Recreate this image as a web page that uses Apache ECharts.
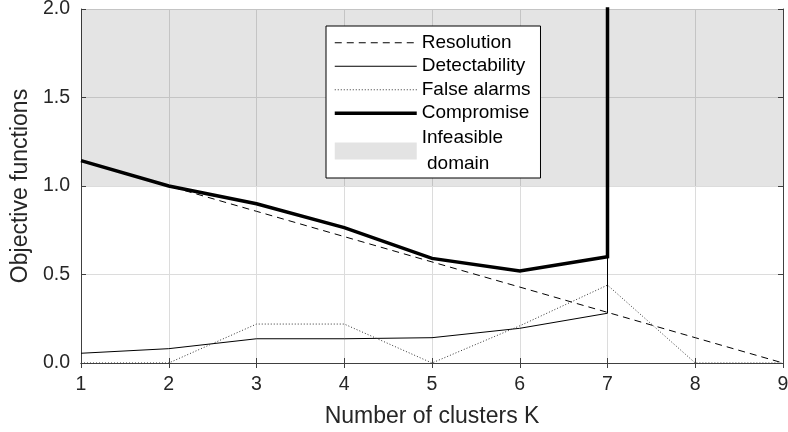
<!DOCTYPE html>
<html>
<head>
<meta charset="utf-8">
<script src="https://cdn.jsdelivr.net/npm/echarts@6/dist/echarts.min.js"></script>
<style>html,body{margin:0;padding:0;background:#fff}#chart{width:788px;height:432px}</style>
</head>
<body>
<div id="chart"></div>
<script>
const kValues = [1, 2, 3, 4, 5, 6, 7, 8, 9];
const resolution = [1.143, 1.0, 0.857, 0.714, 0.571, 0.429, 0.286, 0.143, 0.0];
const detectK = [1, 2, 3, 4, 5, 6, 7, 7];
const detectability = [0.055, 0.081, 0.137, 0.137, 0.143, 0.196, 0.281, 0.6];
const falseAlarms = [0, 0, 0.22, 0.22, 0, 0.21, 0.44, 0, 0];
const compromiseK = [1, 2, 3, 4, 5, 6, 7, 7];
const compromise = [1.143, 1.0, 0.9, 0.765, 0.591, 0.52, 0.6, 5.0];
const infeasibleRange = [1.0, 2.0];
const seriesNames = ['Resolution', 'Detectability', 'False alarms', 'Compromise', 'Infeasible\n domain'];

const pairs = (xs, ys) => xs.map((x, i) => [x, ys[i]]);
const FONT = 'Liberation Sans, Arial, sans-serif';
const AX = '#404040';
const rowText = {fontFamily: FONT, fontSize: 19, color: '#000', lineHeight: 23.5};
const twoLineText = {fontFamily: FONT, fontSize: 19, color: '#000', lineHeight: 26};

const chart = echarts.init(document.getElementById('chart'), null, {renderer: 'canvas'});
chart.setOption({
  animation: false,
  backgroundColor: '#fff',
  grid: {left: 81, right: 5, top: 9, bottom: 69, show: false, containLabel: false, outerBoundsMode: 'none'},
  legend: {
    orient: 'vertical',
    left: 326, top: 26,
    padding: [5, 10, 1, 7],
    itemGap: 0,
    itemWidth: 82,
    itemHeight: 17,
    backgroundColor: '#fff',
    borderColor: '#000',
    borderWidth: 1,
    borderRadius: 0,
    selectedMode: false,
    itemStyle: {opacity: 0},
    textStyle: rowText,
    data: [
      {name: seriesNames[0], lineStyle: {width: 1, opacity: 1}, textStyle: rowText},
      {name: seriesNames[1], lineStyle: {width: 1, opacity: 1}, textStyle: rowText},
      {name: seriesNames[2], lineStyle: {width: 1, opacity: 1}, textStyle: rowText},
      {name: seriesNames[3], lineStyle: {width: 3.5, opacity: 1}, textStyle: rowText},
      {name: seriesNames[4], icon: 'rect', itemStyle: {color: '#e3e3e3', borderWidth: 0, opacity: 1}, textStyle: twoLineText}
    ]
  },
  xAxis: [{
    type: 'value', min: 1, max: 9, interval: 1,
    name: 'Number of clusters K', nameLocation: 'middle', nameGap: 42,
    nameTextStyle: {fontFamily: FONT, fontSize: 23, color: '#262626'},
    axisLine: {lineStyle: {color: AX, width: 1}},
    axisTick: {inside: true, length: 5, lineStyle: {color: AX}},
    axisLabel: {fontFamily: FONT, fontSize: 19.5, color: '#262626', margin: 12},
    splitLine: {show: true, lineStyle: {color: '#dcdcdc', width: 1}}
  }, {
    type: 'value', min: 1, max: 9, interval: 1, position: 'top',
    axisLine: {show: true, lineStyle: {color: AX, width: 1}},
    axisTick: {inside: true, length: 5, lineStyle: {color: AX}},
    axisLabel: {show: false}, splitLine: {show: false}
  }],
  yAxis: [{
    type: 'value', min: 0, max: 2, interval: 0.5,
    name: 'Objective functions', nameLocation: 'middle', nameGap: 43,
    nameTextStyle: {fontFamily: FONT, fontSize: 23, color: '#262626'},
    axisLine: {show: true, lineStyle: {color: AX, width: 1}},
    axisTick: {show: true, inside: true, length: 5, lineStyle: {color: AX}},
    axisLabel: {fontFamily: FONT, fontSize: 19.5, color: '#262626', margin: 11, formatter: v => v.toFixed(1)},
    splitLine: {show: true, lineStyle: {color: '#dcdcdc', width: 1}}
  }, {
    type: 'value', min: 0, max: 2, interval: 0.5, position: 'right',
    axisLine: {show: true, lineStyle: {color: AX, width: 1}},
    axisTick: {show: true, inside: true, length: 5, lineStyle: {color: AX}},
    axisLabel: {show: false}, splitLine: {show: false}
  }],
  series: [
    {
      name: seriesNames[4], type: 'line', data: [], color: '#e3e3e3',
      itemStyle: {color: '#e3e3e3'},
      markArea: {
        silent: true,
        itemStyle: {color: 'rgba(0,0,0,0.105)'},
        data: [[{yAxis: infeasibleRange[0]}, {yAxis: infeasibleRange[1]}]]
      }
    },
    {
      name: seriesNames[0], type: 'line', data: pairs(kValues, resolution),
      symbol: 'none', color: '#000',
      lineStyle: {color: '#000', width: 1, type: [7, 5]}
    },
    {
      name: seriesNames[1], type: 'line', data: pairs(detectK, detectability),
      symbol: 'none', color: '#000',
      lineStyle: {color: '#000', width: 1, type: 'solid'}
    },
    {
      name: seriesNames[2], type: 'line', data: pairs(kValues, falseAlarms),
      symbol: 'none', color: '#000',
      lineStyle: {color: '#333', width: 1, type: [1, 2]}
    },
    {
      name: seriesNames[3], type: 'line', data: pairs(compromiseK, compromise),
      symbol: 'none', color: '#000', clip: true,
      lineStyle: {color: '#000', width: 3.5, type: 'solid', join: 'miter'}
    }
  ]
});
</script>
</body>
</html>
